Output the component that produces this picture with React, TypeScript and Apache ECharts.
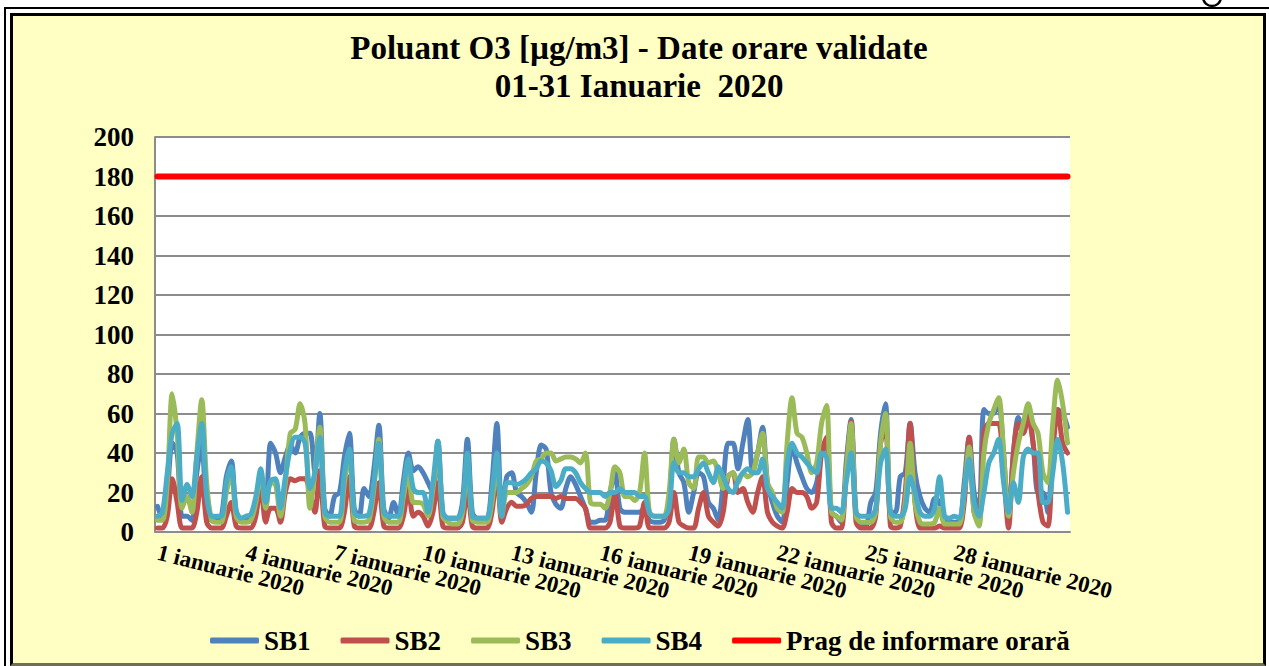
import React, { useEffect, useRef } from "react";
import * as echarts from "echarts";

const FONT = '"Liberation Serif", "Times New Roman", serif';
const TITLE_LINE_1 = "Poluant O3 [µg/m3] - Date orare validate";
const TITLE_LINE_2 = "01-31 Ianuarie  2020";
const MONTH = "ianuarie 2020";
const DAYS = Array.from({ length: 31 }, (_, i) => i + 1);
const HOURS = [2, 6, 10, 14, 18, 22];
const LABEL_DAYS = [1, 4, 7, 10, 13, 16, 19, 22, 25, 28];
const SERIES_NAMES = ["SB1", "SB2", "SB3", "SB4"];
const SERIES_COLORS = ["#4F81BD", "#C0504D", "#9BBB59", "#4BACC6"];
const THRESHOLD_NAME = "Prag de informare orară";
const THRESHOLD = 180;
const Y_MIN = 0;
const Y_MAX = 200;
const Y_STEP = 20;

// values every 4 hours (02, 06, 10, 14, 18, 22), one row per day
const SB1 = [
  13, 7, 20, 45, 40, 8,
  8, 6, 30, 45, 10, 6,
  6, 8, 28, 36, 10, 6,
  6, 8, 15, 25, 12, 45,
  40, 30, 38, 44, 40, 48,
  50, 50, 30, 60, 12, 8,
  18, 20, 38, 50, 12, 8,
  22, 18, 32, 54, 12, 7,
  15, 8, 26, 40, 31, 33,
  30, 25, 20, 46, 10, 7,
  7, 7, 15, 47, 10, 7,
  7, 7, 25, 55, 10, 28,
  30, 20, 18, 15, 10, 30,
  44, 42, 20, 14, 12, 22,
  28, 24, 18, 12, 5, 5,
  6, 6, 20, 30, 12, 10,
  10, 10, 10, 12, 6, 5,
  5, 6, 15, 47, 30, 25,
  10, 20, 30, 28, 15, 12,
  6, 25, 45, 45, 32, 45,
  57, 30, 40, 53, 25, 15,
  8, 5, 25, 43, 35, 28,
  22, 20, 25, 40, 45, 10,
  8, 5, 35, 57, 10, 3,
  3, 15, 20, 50, 65, 10,
  10, 28, 30, 55, 30, 18,
  12, 10, 17, 15, 6, 5,
  5, 5, 25, 48, 20, 10,
  62, 60, 60, 65, 40, 8,
  40, 58, 50, 60, 45, 20,
  20, 10, 45, 62, 60, 53,
];

const SB2 = [
  2, 2, 8, 27, 15, 2,
  2, 2, 10, 28, 5, 2,
  2, 2, 8, 15, 3, 2,
  2, 2, 8, 24, 5, 12,
  12, 5, 20, 27, 26, 27,
  27, 20, 10, 31, 3, 2,
  2, 2, 10, 28, 3, 2,
  2, 2, 10, 25, 3, 2,
  2, 2, 8, 22, 8, 10,
  8, 3, 10, 25, 3, 2,
  2, 2, 5, 22, 3, 2,
  2, 2, 10, 30, 5, 12,
  15, 13, 13, 14, 17, 18,
  18, 18, 18, 17, 18, 17,
  17, 17, 15, 12, 2, 2,
  2, 2, 5, 20, 3, 2,
  2, 2, 3, 15, 2, 2,
  2, 2, 5, 20, 5, 3,
  2, 2, 12, 20, 8, 5,
  3, 10, 28, 30, 20, 22,
  15, 10, 20, 28, 10, 5,
  3, 2, 10, 22, 20, 20,
  18, 12, 15, 40, 48, 5,
  2, 2, 30, 56, 5, 2,
  2, 2, 8, 45, 52, 3,
  2, 3, 20, 55, 15, 2,
  2, 2, 2, 3, 2, 2,
  2, 2, 15, 48, 10, 5,
  50, 55, 55, 55, 30, 2,
  40, 55, 50, 58, 45, 20,
  5, 3, 40, 62, 45, 40,
];

const SB3 = [
  6, 6, 25, 70, 50, 12,
  18, 10, 40, 67, 25, 6,
  5, 5, 20, 30, 8, 5,
  5, 6, 15, 30, 12, 25,
  24, 8, 25, 50, 52, 65,
  55, 12, 30, 53, 8, 5,
  5, 5, 25, 40, 6, 5,
  5, 6, 22, 47, 8, 5,
  5, 5, 18, 30, 15, 15,
  14, 8, 22, 42, 8, 5,
  4, 4, 10, 35, 6, 5,
  5, 5, 15, 35, 8, 20,
  20, 20, 22, 24, 28, 36,
  37, 40, 40, 36, 37, 38,
  38, 37, 35, 40, 15, 14,
  14, 12, 20, 33, 30, 18,
  18, 16, 20, 40, 10, 8,
  8, 8, 20, 47, 35, 42,
  25, 22, 38, 38, 35, 36,
  30, 22, 28, 30, 25, 30,
  28, 30, 40, 50, 25, 20,
  12, 10, 45, 68, 50, 48,
  40, 30, 35, 55, 64, 10,
  8, 6, 30, 55, 8, 5,
  5, 5, 10, 45, 60, 8,
  5, 5, 15, 45, 15, 5,
  4, 4, 5, 12, 4, 4,
  4, 4, 20, 43, 10, 3,
  40, 55, 62, 68, 40, 8,
  30, 45, 55, 65, 55, 50,
  30, 25, 55, 77, 65, 45,
];

const SB4 = [
  8, 10, 30, 50, 55, 16,
  24, 18, 38, 55, 18, 8,
  8, 8, 25, 33, 11, 7,
  8, 9, 18, 32, 15, 26,
  27, 12, 28, 42, 48, 48,
  45, 22, 30, 48, 10, 8,
  8, 8, 30, 42, 10, 8,
  8, 9, 25, 45, 10, 8,
  8, 8, 22, 37, 22, 20,
  20, 10, 25, 46, 10, 7,
  7, 7, 12, 40, 8, 7,
  7, 7, 20, 40, 8, 25,
  25, 24, 25, 27, 30, 32,
  36, 35, 31, 23, 26, 32,
  32, 30, 25, 22, 20, 20,
  20, 18, 20, 20, 22, 20,
  20, 20, 18, 18, 10, 8,
  8, 8, 12, 35, 30, 30,
  28, 28, 32, 35, 30, 25,
  33, 28, 22, 20, 26, 30,
  32, 30, 30, 37, 22, 18,
  15, 12, 35, 45, 40, 38,
  35, 32, 30, 40, 38, 12,
  12, 10, 25, 40, 10, 8,
  8, 8, 12, 35, 42, 10,
  8, 8, 12, 28, 20, 10,
  8, 8, 12, 28, 8, 7,
  8, 7, 20, 37, 15, 8,
  20, 35, 40, 47, 25, 10,
  25, 15, 38, 42, 40, 40,
  15, 15, 30, 47, 35, 10,
];

const SERIES_VALUES = [SB1, SB2, SB3, SB4];

const CATEGORIES = DAYS.flatMap((d) =>
  HOURS.map((h) => `${d} ${MONTH}|${String(h).padStart(2, "0")}:00`)
);

function xLabel(value: string, index: number): string {
  const day = Math.floor(index / HOURS.length) + 1;
  if (index % HOURS.length !== 0 || !LABEL_DAYS.includes(day)) return "";
  return value.split("|")[0];
}

export default function App() {
  const ref = useRef<HTMLDivElement>(null);

  useEffect(() => {
    document.body.style.margin = "0";
    document.body.style.background = "#ffffff";
    if (!ref.current) return;
    const chart = echarts.init(ref.current, undefined, { renderer: "svg" });

    const lineSeries = SERIES_NAMES.map((name, i) => ({
      name,
      type: "line",
      data: SERIES_VALUES[i],
      showSymbol: false,
      symbol: "none",
      smooth: 0.3,
      color: SERIES_COLORS[i],
      lineStyle: { width: 5, color: SERIES_COLORS[i], cap: "round", join: "round" },
      emphasis: { disabled: true },
      z: 2 + i,
    }));

    const option = {
      animation: false,
      backgroundColor: "transparent",
      textStyle: { fontFamily: FONT },
      graphic: {
        elements: [
          {
            type: "text",
            x: 639,
            y: 31,
            style: {
              text: TITLE_LINE_1,
              align: "center",
              verticalAlign: "top",
              font: `bold 33px ${FONT}`,
              fill: "#000",
            },
          },
          {
            type: "text",
            x: 639,
            y: 69,
            style: {
              text: TITLE_LINE_2,
              align: "center",
              verticalAlign: "top",
              font: `bold 33px ${FONT}`,
              fill: "#000",
            },
          },
          {
            // descender of a glyph from the text above the frame (cut at the top)
            type: "arc",
            shape: { cx: 1212, cy: -3, r: 9, startAngle: 0.15, endAngle: Math.PI - 0.15 },
            style: { stroke: "#000", lineWidth: 2.5, fill: "none" },
          },
        ],
      },
      grid: {
        left: 155,
        right: 1269 - 1070,
        top: 137,
        bottom: 666 - 532,
        show: true,
        backgroundColor: "#ffffff",
        borderWidth: 0,
      },
      legend: {
        left: 205,
        top: 622,
        itemWidth: 49,
        itemHeight: 6,
        itemGap: 30,
        icon: "roundRect",
        data: [...SERIES_NAMES, THRESHOLD_NAME],
        textStyle: { fontFamily: FONT, fontWeight: "bold", fontSize: 27, color: "#000" },
      },
      xAxis: {
        type: "category",
        data: CATEGORIES,
        boundaryGap: true,
        axisLine: { show: true, lineStyle: { color: "#8c8c8c", width: 2 } },
        axisTick: { show: false },
        splitLine: { show: false },
        axisLabel: {
          interval: 0,
          hideOverlap: false,
          rotate: -14,
          margin: 20,
          fontFamily: FONT,
          fontWeight: "bold",
          fontSize: 23,
          color: "#000",
          formatter: xLabel,
        },
      },
      yAxis: {
        type: "value",
        min: Y_MIN,
        max: Y_MAX,
        interval: Y_STEP,
        axisLine: { show: true, lineStyle: { color: "#8c8c8c", width: 2 } },
        axisTick: { show: false },
        splitLine: { show: true, lineStyle: { color: "#8c8c8c", width: 2 } },
        axisLabel: {
          margin: 21,
          fontFamily: FONT,
          fontWeight: "bold",
          fontSize: 27,
          color: "#000",
        },
      },
      series: [
        ...lineSeries,
        {
          name: THRESHOLD_NAME,
          type: "line",
          data: CATEGORIES.map(() => THRESHOLD),
          showSymbol: false,
          symbol: "none",
          color: "#FF0000",
          lineStyle: { width: 6, color: "#FF0000", cap: "round" },
          emphasis: { disabled: true },
          z: 10,
        },
      ],
    };

    chart.setOption(option as any);
    return () => chart.dispose();
  }, []);

  return (
    <div style={{ position: "relative", width: 1269, height: 666, overflow: "hidden", background: "#fff" }}>
      <div style={{ position: "absolute", left: 4, top: 7, width: 1265, height: 2, background: "#000" }} />
      <div style={{ position: "absolute", left: 4, top: 7, width: 2, height: 659, background: "#000" }} />
      <div
        style={{
          position: "absolute",
          left: 10,
          top: 13,
          width: 1256,
          height: 653,
          boxSizing: "border-box",
          border: "3px solid #000",
          borderBottomColor: "#6f6f55",
          background: "#FFFFC4",
        }}
      />
      <div ref={ref} style={{ position: "absolute", left: 0, top: 0, width: 1269, height: 666 }} />
    </div>
  );
}
